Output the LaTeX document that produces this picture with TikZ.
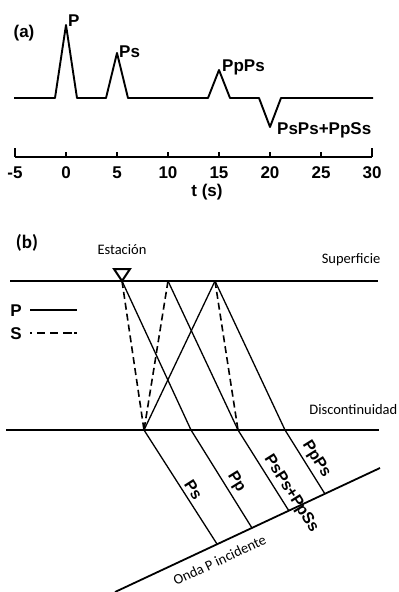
\documentclass[tikz,border=0pt]{standalone}
\usepackage{fontspec}
\setmainfont{Liberation Sans}
\newfontfamily\calfont{Carlito}
\usetikzlibrary{positioning}

\begin{document}
\begin{tikzpicture}[
    x=1pt, y=-1pt,
    lbl/.style={font=\fontsize{17}{17}\selectfont\bfseries, inner sep=1pt},
    raylbl/.style={font=\fontsize{16}{16}\selectfont\bfseries, inner sep=1pt, sloped, above=2pt},
    smalllbl/.style={font=\calfont\fontsize{14.5}{14.5}\selectfont, inner sep=0.5pt},
    trace/.style={line width=1.9pt, line join=round},
    axisline/.style={line width=2pt},
    tickmark/.style={line width=2pt},
    ray/.style={line width=1.3pt},
    sray/.style={line width=1.6pt, dash pattern=on 7pt off 4pt},
    layer/.style={line width=1.8pt},
    stamark/.style={line width=2pt, line join=miter}
]

\useasboundingbox (0,0) rectangle (399,592);

% (a) receiver function
\node[lbl] at (24,33) {(a)};
\coordinate (pkP) at (66,25);
\coordinate (pkPs) at (117,53);
\coordinate (pkPpPs) at (219,70);
\coordinate (trPsPs) at (270,127);
\draw[trace] (14,98) -- (55,98) -- (pkP) -- (77,98) -- (106,98) -- (pkPs) -- (128,98)
    -- (208,98) -- (pkPpPs) -- (230,98) -- (259,98) -- (trPsPs) -- (281,98) -- (373,98);
\node[lbl, anchor=west] at ([shift={(1,-4)}]pkP) {P};
\node[lbl, anchor=west] at ([shift={(1,-1)}]pkPs) {Ps};
\node[lbl, anchor=west] at ([shift={(2,-3)}]pkPpPs) {PpPs};
\node[lbl, anchor=west] at ([shift={(6,3)}]trPsPs) {PsPs+PpSs};

% time axis
\draw[axisline] (15,157) -- (372,157);
\draw[tickmark] (15,157) -- (15,148);
\draw[tickmark] (372,157) -- (372,148);
\foreach \t [evaluate=\t as \xx using {66+10.2*\t}] in {0,5,...,25}
    \draw[tickmark] (\xx,157) -- (\xx,152);
\foreach \t [evaluate=\t as \xx using {66+10.2*\t}] in {-5,0,...,30}
    \node[lbl] at (\xx,173) {\t};
\node[lbl] at (207,192) {t (s)};

% (b) ray paths
\node[lbl, font=\calfont\fontsize{19}{19}\selectfont\bfseries] at (27,243) {(b)};

\coordinate (surfL) at (10,281);
\coordinate (surfR) at (378,281);
\coordinate (discL) at (6,430);
\coordinate (discR) at (379,430);
\draw[layer] (surfL) -- (surfR);
\draw[layer, line width=2.2pt] (discL) -- (discR);
\node[smalllbl, anchor=east] at (381,260) {Superficie};
\node[smalllbl, anchor=east] at (398,410) {Discontinuidad};

% surface and interface points
\coordinate (sA) at (122,281);
\coordinate (sB) at (168,281);
\coordinate (sC) at (215,281);
\coordinate (dA) at (144,430);
\coordinate (dB) at (191,430);
\coordinate (dC) at (238,430);
\coordinate (dD) at (285,430);
\coordinate (eA) at (217,544);
\coordinate (eB) at (252,528);
\coordinate (eC) at (289,511);
\coordinate (eD) at (325,494);
\coordinate (inc1) at (115,592);
\coordinate (inc2) at (380,468);

% station
\draw[stamark] ([shift={(-8,-12)}]sA) -- ([shift={(8,-12)}]sA) -- (sA) -- cycle;
\node[smalllbl] at (122,250) {Estación};

% legend
\node[lbl] (legP) at (16,311) {P};
\node[lbl] (legS) at (16,334) {S};
\coordinate (legPa) at (30,310);
\coordinate (legPb) at (77,310);
\coordinate (legSa) at (30,333);
\coordinate (legSb) at (77,333);
\draw[ray, line width=2pt] (legPa) -- (legPb);
\draw[sray, line width=2pt, dash pattern=on 2pt off 5pt on 8pt off 5pt on 8pt off 5pt on 9pt] (legSa) -- (legSb);

% layer rays
\draw[ray] (sA) -- (dB);
\draw[ray] (sB) -- (dC);
\draw[ray] (sC) -- (dA);
\draw[ray] (sC) -- (dD);
\draw[sray] (sA) -- (dA);
\draw[sray] (sB) -- (dA);
\draw[sray] (sC) -- (dC);

% incoming rays
\draw[ray] (dA) -- node[raylbl, pos=0.57] {Ps} (eA);
\draw[ray] (dB) -- node[raylbl, pos=0.59] {Pp} (eB);
\draw[ray] (dC) -- node[raylbl, pos=0.86] {PsPs+PpSs} (eC);
\draw[ray] (dD) -- node[raylbl, pos=0.55] {PpPs} (eD);
\draw[layer] (inc1) -- node[smalllbl, sloped, below=9pt, pos=0.37] {Onda P incidente} (inc2);

\end{tikzpicture}
\end{document}
